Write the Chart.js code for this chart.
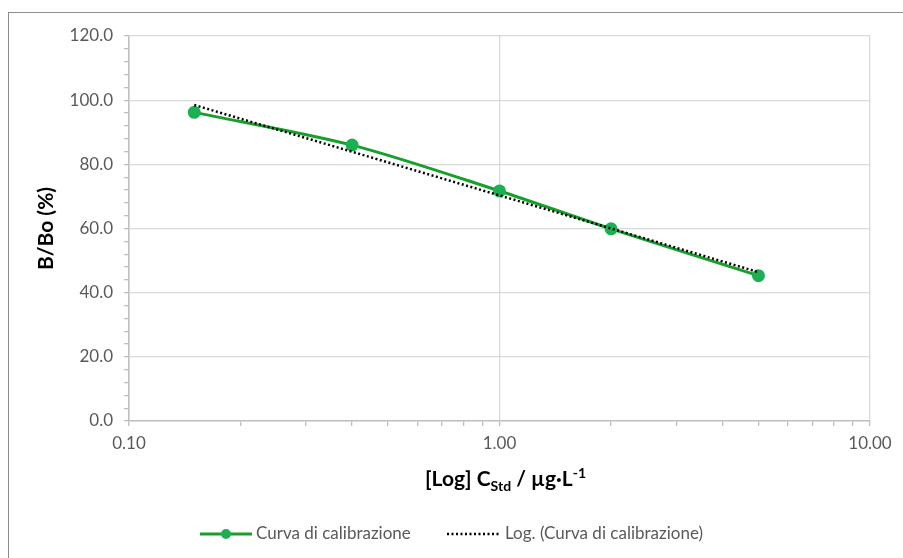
<!DOCTYPE html>
<html>
<head>
<meta charset="utf-8">
<script src="https://cdn.jsdelivr.net/npm/chart.js@4.4.1/dist/chart.umd.min.js"></script>
<style>
  html, body { margin: 0; padding: 0; background: #ffffff; }
  #wrap { position: relative; width: 903px; height: 558px; }
</style>
</head>
<body>
<div id="wrap"><canvas id="c" width="903" height="558"></canvas></div>
<script>
// ---- Data ----
const concentrations = [0.15, 0.4, 1.0, 2.0, 5.0];
const bBoValues = [96.2, 86.0, 71.7, 59.9, 45.3];
const trendX = [0.15, 5.0];
const trendY = [98.5, 46.4];
const xTickLabels = ['0.10', '1.00', '10.00'];
const seriesLabel = 'Curva di calibrazione';
const trendLabel = 'Log. (Curva di calibrazione)';
const yTitle = 'B/Bo (%)';

const FONT = 'Lato, "Open Sans", sans-serif';
const GREEN_LINE = '#16a02a';
const GREEN_POINT = '#1cb053';
const GRID = '#d9d9d9';
const AXIS = '#bfbfbf';
const TXT = '#595959';

const mainData = concentrations.map((x, i) => ({ x: x, y: bBoValues[i] }));
const trendData = trendX.map((x, i) => ({ x: x, y: trendY[i] }));

const decorPlugin = {
  id: 'decor',
  beforeDraw(chart) {
    const ctx = chart.ctx;
    ctx.save();
    ctx.fillStyle = '#ffffff';
    ctx.fillRect(0, 0, chart.width, chart.height);
    ctx.strokeStyle = '#8c8c8c';
    ctx.lineWidth = 1;
    ctx.strokeRect(8.5, 12.5, 1000, 1000);
    ctx.restore();
  },
  afterDraw(chart) {
    const ctx = chart.ctx;
    const xs = chart.scales.x, ys = chart.scales.y;
    ctx.save();
    // Y title
    ctx.fillStyle = '#000000';
    ctx.font = 'bold 21px ' + FONT;
    ctx.textAlign = 'center';
    ctx.textBaseline = 'middle';
    ctx.translate(46, (ys.top + ys.bottom) / 2);
    ctx.rotate(-Math.PI / 2);
    ctx.fillText(yTitle, 0, 0);
    ctx.setTransform(1, 0, 0, 1, 0, 0);

    // X title with subscript / superscript
    const big = 'bold 21px ' + FONT, small = 'bold 14px ' + FONT;
    const parts = [
      { t: '[Log] C', f: big, dy: 0 },
      { t: 'Std', f: small, dy: 5 },
      { t: ' / \u00b5g\u00b7L', f: big, dy: 0 },
      { t: '-1', f: small, dy: -8 }
    ];
    let total = 0;
    parts.forEach(p => { ctx.font = p.f; p.w = ctx.measureText(p.t).width; total += p.w; });
    let x = (xs.left + xs.right) / 2 + 6 - total / 2;
    const baseY = 486;
    ctx.textAlign = 'left';
    ctx.textBaseline = 'alphabetic';
    parts.forEach(p => { ctx.font = p.f; ctx.fillText(p.t, x, baseY + p.dy); x += p.w; });

    // Legend
    const ly = 534;
    const ds0 = chart.data.datasets[0], ds1 = chart.data.datasets[1];
    ctx.font = '17px ' + FONT;
    ctx.textBaseline = 'middle';
    // item 1
    ctx.strokeStyle = ds0.borderColor;
    ctx.lineWidth = 3;
    ctx.beginPath(); ctx.moveTo(200, ly); ctx.lineTo(252, ly); ctx.stroke();
    ctx.fillStyle = ds0.pointBackgroundColor;
    ctx.beginPath(); ctx.arc(226, ly, 5, 0, Math.PI * 2); ctx.fill();
    ctx.fillStyle = TXT;
    ctx.fillText(ds0.label, 256, ly);
    // item 2
    ctx.strokeStyle = ds1.borderColor;
    ctx.lineWidth = 2.5;
    ctx.setLineDash(ds1.borderDash);
    ctx.beginPath(); ctx.moveTo(447, ly); ctx.lineTo(500, ly); ctx.stroke();
    ctx.setLineDash([]);
    ctx.fillText(ds1.label, 505, ly);
    ctx.restore();
  }
};

new Chart(document.getElementById('c'), {
  type: 'line',
  data: {
    datasets: [
      {
        label: seriesLabel,
        data: mainData,
        borderColor: GREEN_LINE,
        backgroundColor: GREEN_POINT,
        pointBackgroundColor: GREEN_POINT,
        pointBorderColor: GREEN_POINT,
        pointRadius: 5,
        borderWidth: 3,
        tension: 0.3,
        fill: false,
        order: 2
      },
      {
        label: trendLabel,
        data: trendData,
        borderColor: '#000000',
        borderWidth: 2.5,
        borderDash: [2, 2.5],
        pointRadius: 0,
        tension: 0,
        fill: false,
        order: 1
      }
    ]
  },
  options: {
    responsive: false,
    animation: false,
    events: [],
    layout: { padding: { left: 0, right: 33, top: 36, bottom: 0 } },
    plugins: { legend: { display: false }, tooltip: { enabled: false } },
    scales: {
      x: {
        type: 'logarithmic',
        min: 0.1,
        max: 10,
        afterFit(scale) { scale.height = 137; },
        afterBuildTicks(scale) {
          const t = [];
          [0.1, 1].forEach(d => { for (let k = 1; k <= 9; k++) t.push({ value: +(d * k).toFixed(3) }); });
          t.push({ value: 10 });
          scale.ticks = t;
        },
        ticks: {
          autoSkip: false,
          maxRotation: 0,
          color: TXT,
          font: { family: FONT, size: 17 },
          padding: 7,
          callback(v) {
            if (Math.abs(v - 0.1) < 1e-9) return xTickLabels[0];
            if (Math.abs(v - 1) < 1e-9) return xTickLabels[1];
            if (Math.abs(v - 10) < 1e-9) return xTickLabels[2];
            return '';
          }
        },
        grid: {
          color(ctx) {
            const v = ctx.tick && ctx.tick.value;
            return (Math.abs(v - 1) < 1e-9 || Math.abs(v - 10) < 1e-9 || Math.abs(v - 0.1) < 1e-9) ? GRID : 'rgba(0,0,0,0)';
          },
          tickColor: AXIS,
          tickLength: 5,
          lineWidth: 1.3,
          drawTicks: true
        },
        border: { color: AXIS, width: 1.5 }
      },
      y: {
        min: 0,
        max: 120,
        afterFit(scale) { scale.width = 129; },
        ticks: {
          stepSize: 4,
          autoSkip: false,
          color: TXT,
          font: { family: FONT, size: 17 },
          padding: 11,
          callback(v) { return (Math.round(v) % 20 === 0) ? Number(v).toFixed(1) : ''; }
        },
        grid: {
          color(ctx) {
            const v = ctx.tick && ctx.tick.value;
            return (Math.round(v) % 20 === 0) ? GRID : 'rgba(0,0,0,0)';
          },
          tickColor: AXIS,
          tickLength: 5,
          lineWidth: 1.3
        },
        border: { color: AXIS, width: 1.5 }
      }
    }
  },
  plugins: [decorPlugin]
});
</script>
</body>
</html>
